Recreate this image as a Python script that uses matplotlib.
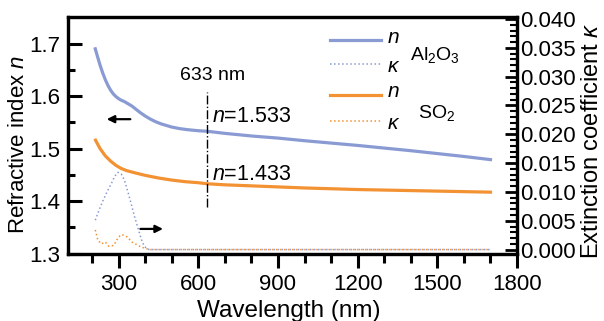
import numpy as np
import matplotlib.pyplot as plt

plt.rcParams['font.family'] = ['Liberation Sans', 'DejaVu Sans']
plt.rcParams['mathtext.fontset'] = 'custom'
plt.rcParams['mathtext.rm'] = 'Liberation Sans'
plt.rcParams['mathtext.it'] = 'Liberation Sans:italic'

# refractive index n
wl_al_n = [212, 220, 230, 240, 250, 260, 270, 280, 290, 300, 310, 320, 330, 340, 350, 360,
           370, 380, 400, 420, 440, 460, 480, 500, 530, 560, 600, 633, 700, 800, 900, 1000,
           1200, 1400, 1600, 1700]
n_al = [1.690, 1.676, 1.659, 1.644, 1.631, 1.620, 1.611, 1.604, 1.599, 1.595, 1.592, 1.590,
        1.587, 1.584, 1.581, 1.577, 1.573, 1.569, 1.562, 1.556, 1.551, 1.547, 1.544, 1.541,
        1.538, 1.536, 1.534, 1.533, 1.529, 1.524, 1.520, 1.515, 1.506, 1.496, 1.485, 1.479]
wl_so_n = [213, 230, 250, 270, 290, 310, 330, 360, 400, 450, 500, 550, 600, 633, 700, 800,
           1000, 1200, 1500, 1700]
n_so = [1.516, 1.500, 1.486, 1.476, 1.468, 1.462, 1.458, 1.454, 1.449, 1.444, 1.440, 1.437,
        1.435, 1.433, 1.431, 1.429, 1.425, 1.422, 1.419, 1.417]

# extinction coefficient kappa
wl_al_k = [212, 225, 241, 256, 272, 285, 297, 310, 322, 335, 348, 360, 373, 386, 395, 405,
           415, 1700]
k_al = [0.0051, 0.0067, 0.0085, 0.0100, 0.0114, 0.0127, 0.0134, 0.0131, 0.0120, 0.0100,
        0.0078, 0.0057, 0.0037, 0.0017, 0.0007, 0.0002, 0.0, 0.0]
wl_so_k = [212, 222, 235, 250, 262, 281, 300, 313, 332, 350, 382, 400, 420, 1700]
k_so = [0.0034, 0.0016, 0.0010, 0.0013, 0.0006, 0.0007, 0.0022, 0.0026, 0.0022, 0.0013,
        0.0005, 0.0002, 0.0, 0.0]

blue = '#8a9bd4'
orange = '#f39233'

fig = plt.figure(figsize=(6.04, 3.21), dpi=100)
ax = fig.add_axes([0.112, 0.21, 0.744, 0.736])
ax2 = ax.twinx()

ax.plot(wl_al_n, n_al, color=blue, lw=2.3)
ax.plot(wl_so_n, n_so, color=orange, lw=2.3)
ax2.plot(wl_al_k, k_al, color=blue, lw=1.1, ls=':')
ax2.plot(wl_so_k, k_so, color=orange, lw=1.1, ls=':')

ax.set_xlim(108, 1800)
ax.set_ylim(1.3, 1.75)
ax2.set_ylim(-0.0007, 0.0403)

ax.set_xticks([300, 600, 900, 1200, 1500, 1800])
ax.set_xticks(np.arange(200, 1800, 100), minor=True)
ax.set_yticks([1.3, 1.4, 1.5, 1.6, 1.7])
ax.set_yticklabels(['1.3', '1.4', '1.5', '1.6', '1.7'])
ax.set_yticks(np.arange(1.35, 1.75, 0.1), minor=True)
ax2.set_yticks(np.arange(0, 0.0401, 0.005))
ax2.set_yticklabels(['%.3f' % v for v in np.arange(0, 0.0401, 0.005)])
ax2.set_yticks(np.arange(0, 0.0401, 0.001), minor=True)

for s in ax.spines.values():
    s.set_linewidth(2.3)
for s in ax2.spines.values():
    s.set_linewidth(2.3)

ax.tick_params(axis='x', which='major', direction='out', length=10, width=2.2, labelsize=16, pad=5)
ax.tick_params(axis='x', which='minor', direction='out', length=6.5, width=2.2)
ax.tick_params(axis='y', which='major', direction='in', length=10, width=2.2, labelsize=16, pad=5)
ax.tick_params(axis='y', which='minor', direction='in', length=5, width=2.2)
ax2.tick_params(axis='y', which='major', direction='in', length=8.5, width=2.0, labelsize=16, pad=2)
ax2.tick_params(axis='y', which='minor', direction='in', length=5, width=1.5)

ax.set_xlabel('Wavelength (nm)', fontsize=17.5)
ax.set_ylabel('Refractive index $n$', fontsize=16)
ax2.set_ylabel(r'Extinction coefficient $\kappa$', fontsize=17)
ax.xaxis.set_label_coords(0.493, -0.197)
ax.yaxis.set_label_coords(-0.086, 0.46)
ax2.yaxis.set_label_coords(1.143, 0.48)

# 633 nm marker
ax.plot([633, 633], [1.388, 1.607], color='k', lw=1.0, ls='-.')
ax.text(530, 1.640, '633 nm', fontsize=14, va='center', ha='left')
ax.text(650, 1.562, '$n$=1.533', fontsize=15.5, va='center', ha='left')
ax.text(650, 1.451, '$n$=1.433', fontsize=15.5, va='center', ha='left')

# arrows pointing to the matching axes
arrow = dict(arrowstyle='-|>', color='k', lw=1.6, mutation_scale=11, shrinkA=0, shrinkB=0)
ax.annotate('', xy=(255, 1.556), xytext=(344, 1.556), arrowprops=arrow)
ax.annotate('', xy=(467, 1.347), xytext=(382, 1.347), arrowprops=arrow)

# hand-drawn key
ax.plot([1097, 1289], [1.706, 1.706], color=blue, lw=2.3, clip_on=False)
ax.plot([1097, 1289], [1.661, 1.661], color=blue, lw=1.1, ls=':')
ax.plot([1097, 1289], [1.603, 1.603], color=orange, lw=2.3)
ax.plot([1097, 1289], [1.552, 1.552], color=orange, lw=1.1, ls=':')
ax.text(1310, 1.712, '$n$', fontsize=15, va='center', ha='left')
ax.text(1310, 1.657, r'$\kappa$', fontsize=15, va='center', ha='left')
ax.text(1310, 1.609, '$n$', fontsize=15, va='center', ha='left')
ax.text(1310, 1.548, r'$\kappa$', fontsize=15, va='center', ha='left')
ax.text(1398, 1.678, r'Al$_2$O$_3$', fontsize=14, va='center', ha='left')
ax.text(1428, 1.567, r'SO$_2$', fontsize=14, va='center', ha='left')

fig.savefig('out.png', dpi=100)
